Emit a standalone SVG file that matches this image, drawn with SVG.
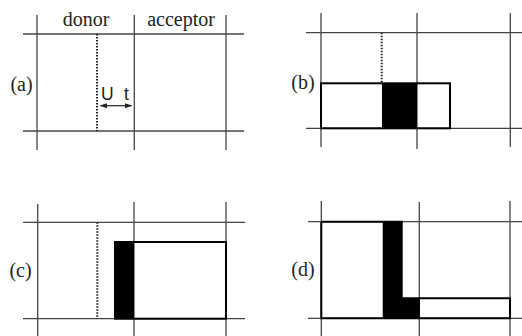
<svg xmlns="http://www.w3.org/2000/svg" width="522" height="336" viewBox="0 0 522 336">
<defs>
<style>
.g{stroke:#444;stroke-width:1.3;fill:none}
.d{stroke:#222;stroke-width:2;stroke-dasharray:1.5 1.5;fill:none}
.b{stroke:#000;stroke-width:2;fill:none}
.f{fill:#000;stroke:none}
.t{font-family:"Liberation Serif",serif;font-size:20px;fill:#222}
.s{font-family:"Liberation Sans",sans-serif;font-size:17.5px;fill:#222}
</style>
<marker id="ah" viewBox="0 0 10 10" refX="9" refY="5" markerWidth="6" markerHeight="6" orient="auto-start-reverse"><path d="M0,1.5 L10,5 L0,8.5 z" fill="#222"/></marker>
</defs>
<g id="panel-a">
<g class="grid">
<line class="g" x1="23" y1="34" x2="244" y2="34"/>
<line class="g" x1="23" y1="131" x2="244" y2="131"/>
<line class="g" x1="37" y1="15" x2="37" y2="150"/>
<line class="g" x1="134.3" y1="15" x2="134.3" y2="150"/>
<line class="g" x1="226" y1="15" x2="226" y2="150"/>
</g>
<line class="d" x1="97" y1="34" x2="97" y2="131"/>
<text class="t" x="86" y="26" text-anchor="middle">donor</text>
<text class="t" x="181" y="26" text-anchor="middle">acceptor</text>
<text class="t" x="21.5" y="91" text-anchor="middle">(a)</text>
<text class="s" x="101" y="99.5">U</text>
<text class="s" x="124" y="99.5">t</text>
<line x1="100.5" y1="105.7" x2="131.5" y2="105.7" stroke="#222" stroke-width="1.2" marker-start="url(#ah)" marker-end="url(#ah)"/>
</g>
<g id="panel-b">
<line class="g" x1="306" y1="32.7" x2="522" y2="32.7"/>
<line class="g" x1="306" y1="128.3" x2="522" y2="128.3"/>
<line class="g" x1="321" y1="13" x2="321" y2="147"/>
<line class="g" x1="417" y1="13" x2="417" y2="149"/>
<line class="g" x1="510.3" y1="13" x2="510.3" y2="147"/>
<line class="d" x1="381.7" y1="32.7" x2="381.7" y2="83"/>
<rect class="f" x="382" y="83.3" width="35" height="45"/>
<rect class="b" x="321" y="83.3" width="129" height="45"/>
<text class="t" x="303" y="89" text-anchor="middle">(b)</text>
</g>
<g id="panel-c">
<line class="g" x1="23" y1="222.3" x2="245" y2="222.3"/>
<line class="g" x1="23" y1="318.7" x2="245" y2="318.7"/>
<line class="g" x1="37.7" y1="204" x2="37.7" y2="336"/>
<line class="g" x1="134" y1="202" x2="134" y2="336"/>
<line class="g" x1="226" y1="202" x2="226" y2="336"/>
<line class="d" x1="97.3" y1="222.3" x2="97.3" y2="318.7"/>
<rect class="f" x="115" y="242" width="19" height="76.7"/>
<rect class="b" x="115" y="242" width="111" height="76.7"/>
<text class="t" x="20.5" y="277" text-anchor="middle">(c)</text>
</g>
<g id="panel-d">
<line class="g" x1="308" y1="221.7" x2="522" y2="221.7"/>
<line class="g" x1="308" y1="318.3" x2="522" y2="318.3"/>
<line class="g" x1="321.3" y1="201" x2="321.3" y2="336"/>
<line class="g" x1="419.3" y1="202" x2="419.3" y2="336"/>
<line class="g" x1="510" y1="201" x2="510" y2="336"/>
<path class="f" d="M382.7,221.7 H402.7 V298.3 H420 V319 H382.7 Z"/>
<path class="b" d="M321.3,221.7 H402.7 M402.7,298.3 H510 V318.3 H321.3 V221.7"/>
<text class="t" x="303" y="276" text-anchor="middle">(d)</text>
</g>
</svg>
